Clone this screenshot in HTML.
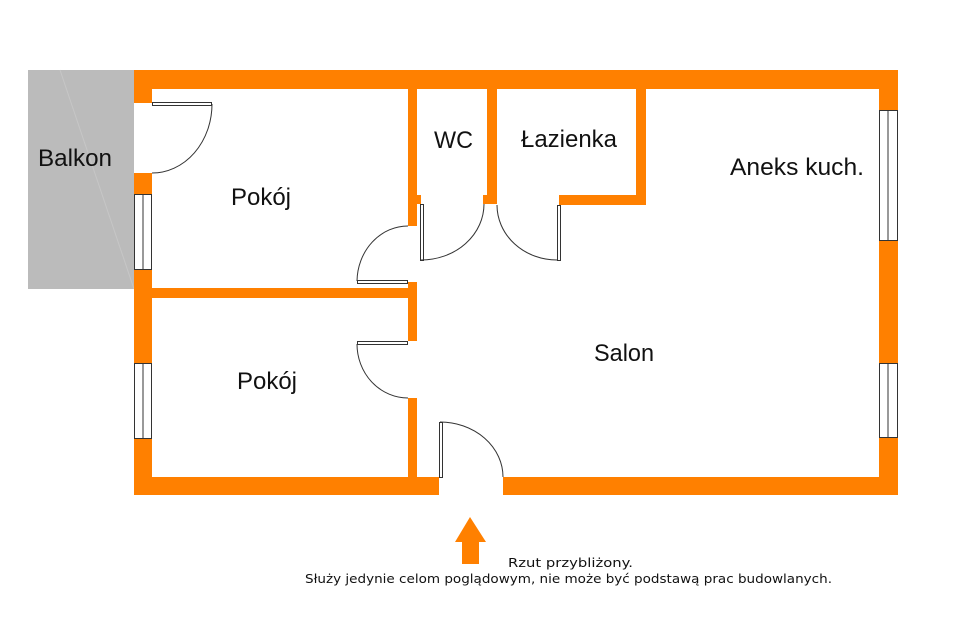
<!DOCTYPE html>
<html><head><meta charset="utf-8"><style>html,body{margin:0;padding:0;background:#fff}svg{display:block}</style></head>
<body>
<svg width="957" height="621" viewBox="0 0 957 621" xmlns="http://www.w3.org/2000/svg">
<rect width="957" height="621" fill="#fff"/>
<rect x="28" y="70" width="106" height="219" fill="#bbbbbb"/>
<line x1="60" y1="70" x2="134" y2="289" stroke="#c6c6c6" stroke-width="1"/>
<g fill="#ff8000">
<rect x="134" y="70" width="764" height="19"/>
<rect x="134" y="70" width="18" height="33"/>
<rect x="134" y="173" width="18" height="22"/>
<rect x="134" y="269" width="18" height="95"/>
<rect x="134" y="438" width="18" height="57"/>
<rect x="134" y="288" width="283" height="10"/>
<rect x="134" y="477" width="305" height="18"/>
<rect x="503" y="477" width="395" height="18"/>
<rect x="879" y="70" width="19" height="40"/>
<rect x="879" y="240" width="19" height="123"/>
<rect x="879" y="437" width="19" height="58"/>
<rect x="408" y="89" width="9" height="137"/>
<rect x="408" y="195" width="13" height="9"/>
<rect x="408" y="282" width="9" height="59"/>
<rect x="408" y="398" width="9" height="79"/>
<rect x="487" y="89" width="10" height="115"/>
<rect x="483" y="195" width="14" height="9"/>
<rect x="636" y="89" width="10" height="116"/>
<rect x="559" y="195" width="87" height="10"/>
</g>
<g fill="#fff" stroke="#333" stroke-width="1">
<rect x="134.5" y="194.5" width="17" height="75"/><line x1="143" y1="195" x2="143" y2="269"/>
<rect x="134.5" y="363.5" width="17" height="75"/><line x1="143" y1="364" x2="143" y2="438"/>
<rect x="879.5" y="110.5" width="18" height="130"/><line x1="888" y1="111" x2="888" y2="240"/>
<rect x="879.5" y="363.5" width="18" height="74"/><line x1="888" y1="364" x2="888" y2="437"/>
<rect x="152.5" y="102.5" width="59" height="3"/>
<rect x="357.5" y="280.5" width="50" height="3"/>
<rect x="357.5" y="341.5" width="50" height="3"/>
<rect x="420.5" y="204.5" width="3" height="56"/>
<rect x="557.5" y="205.5" width="3" height="55"/>
<rect x="439.5" y="422.5" width="3" height="55"/>
</g>
<g fill="none" stroke="#333" stroke-width="1">
<path d="M212 104 A60 69 0 0 1 152 173"/>
<path d="M357 281 A51 56 0 0 1 408 226"/>
<path d="M357 344 A51 54 0 0 0 408 398"/>
<path d="M421 260 A63 56 0 0 0 484 204"/>
<path d="M497 205 A60 55 0 0 0 557 260"/>
<path d="M440 422 A63 55 0 0 1 503 477"/>
</g>
<polygon points="470,517 486,542 479,542 479,564 462,564 462,542 455,542" fill="#ff8000"/>
<g font-family="Liberation Sans, DejaVu Sans, sans-serif" font-size="24" fill="#111">
<text x="38" y="166" textLength="74" lengthAdjust="spacingAndGlyphs">Balkon</text>
<text x="231" y="205" textLength="60" lengthAdjust="spacingAndGlyphs">Pokój</text>
<text x="434" y="148" textLength="39" lengthAdjust="spacingAndGlyphs">WC</text>
<text x="521" y="147" textLength="96" lengthAdjust="spacingAndGlyphs">Łazienka</text>
<text x="730" y="175" textLength="134" lengthAdjust="spacingAndGlyphs">Aneks kuch.</text>
<text x="594" y="361" textLength="60" lengthAdjust="spacingAndGlyphs">Salon</text>
<text x="237" y="389" textLength="60" lengthAdjust="spacingAndGlyphs">Pokój</text>
</g>
<g font-family="DejaVu Sans, Liberation Sans, sans-serif" font-size="12.5" fill="#111">
<text x="508" y="567" textLength="125" lengthAdjust="spacingAndGlyphs">Rzut przybliżony.</text>
<text x="305" y="583" textLength="527" lengthAdjust="spacingAndGlyphs">Służy jedynie celom poglądowym, nie może być podstawą prac budowlanych.</text>
</g>
</svg>
</body></html>
